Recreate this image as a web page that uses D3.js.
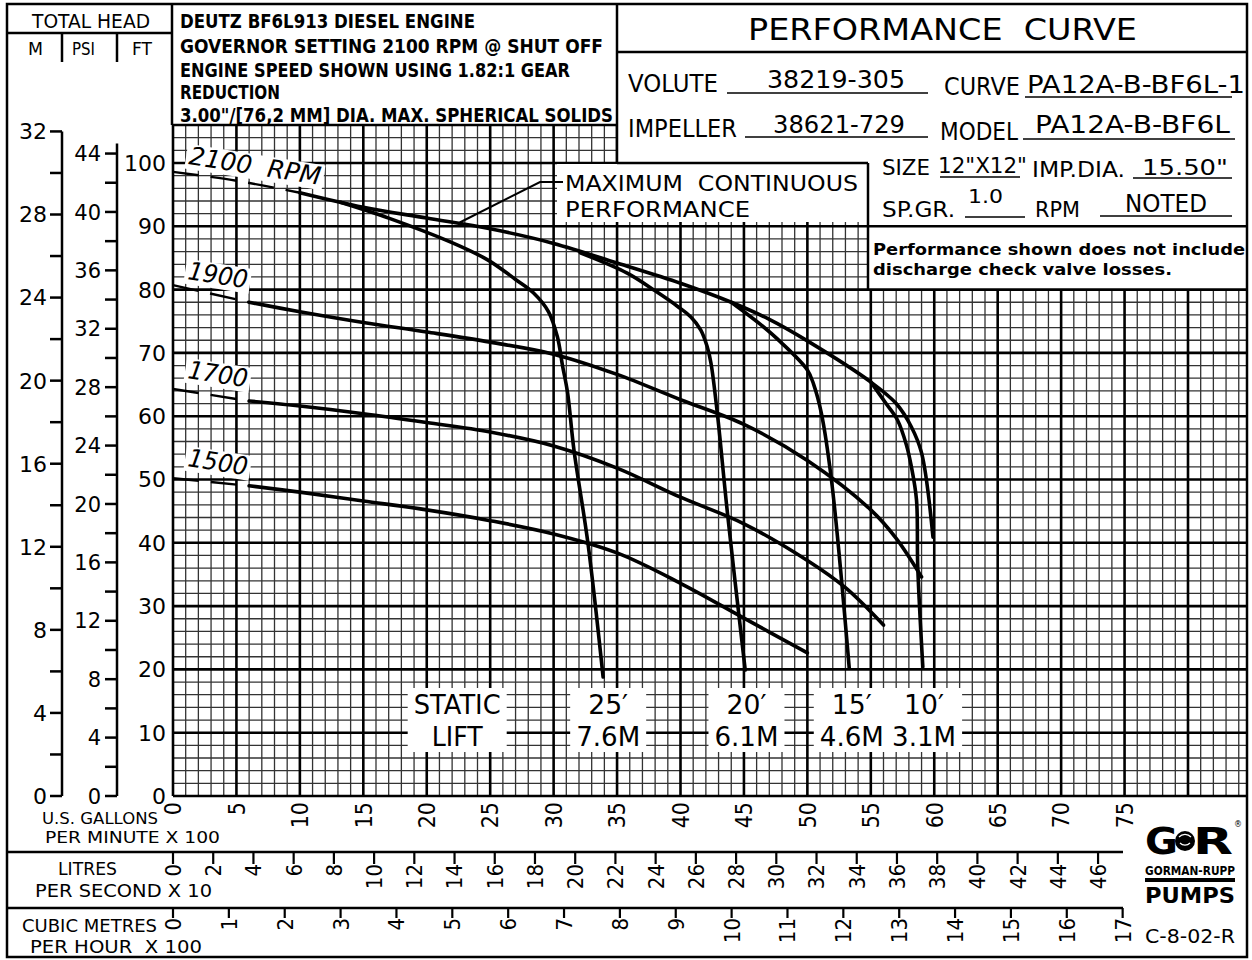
<!DOCTYPE html>
<html><head><meta charset="utf-8">
<script src="https://cdn.jsdelivr.net/npm/d3@7"></script>
<style>body{margin:0;background:#fff}svg{display:block}</style>
</head><body><svg id="c" width="1252" height="960"></svg>
<script>
// ---------------- DATA ----------------
// flow in U.S. GPM x 100, head in feet
const head2100 = [[0,98.6],[5,97.2],[10,95.3],[15,93.0],[20,91.3],[25,89.6],[30,87.3],[35,84.2],[40,81.0],[44,78.0],[47,75.3],[50,71.9],[55,65.4],[57,62.0],[58.2,58.3],[59,54.2],[59.9,40.9]];
const head1900 = [[0,80.7],[6,78.0],[10,76.5],[15,74.8],[20,73.3],[25,71.7],[30,69.8],[35,66.6],[40,62.6],[45,58.7],[50,53.0],[55,45.2],[57,40.7],[59,34.6]];
const head1700 = [[0,64.3],[6,62.4],[10,61.6],[15,60.4],[20,59.0],[25,57.5],[30,55.3],[35,51.8],[40,47.2],[45,43.0],[50,37.2],[53,32.9],[56,27.0]];
const head1500 = [[0,50.2],[6,49.0],[10,48.0],[15,46.6],[20,45.2],[25,43.5],[30,41.4],[35,38.4],[40,33.6],[45,28.1],[50,22.6]];
const rpmLabels = ["2100  RPM","1900","1700","1500"];
const rpmDashEnd = [10,6,6,6];

const lift25 = [[13.2,93.8],[17,91.3],[21.9,87.5],[24.8,84.7],[27,81.6],[28.4,79.5],[29.6,76.5],[30.3,72.5],[30.7,68.0],[31.1,63.7],[31.6,54.7],[32.7,40.0],[33.9,18.8]];
const lift20 = [[32.1,85.8],[35.8,82.6],[38,79.8],[39.8,77.3],[40.8,75.7],[41.6,73.6],[42.1,71.0],[42.4,68.4],[42.9,60.5],[43.7,44.7],[45.1,19.9]];
const lift15 = [[44,78.0],[46.3,74.5],[47.9,71.7],[50,67.3],[50.5,65.0],[51.1,60.5],[51.9,49.9],[53.3,20.2]];
const lift10 = [[55,65.4],[56.2,62.0],[57.1,59.4],[57.8,55.5],[58.2,52.0],[58.6,46.8],[58.7,36.2],[59.1,20.4]];
const liftFt = ["25′","20′","15′","10′"];
const liftM = ["7.6M","6.1M","4.6M","3.1M"];
const liftLabelQ = [34.3,45.2,53.5,59.2];

const ftTicks = [0,10,20,30,40,50,60,70,80,90,100];
const psiTicks = [0,4,8,12,16,20,24,28,32,36,40,44];
const psiMinor = [2,6,10,14,18,22,26,30,34,38,42];
const mTicks = [0,4,8,12,16,20,24,28,32];
const mMinor = [2,6,10,14,18,22,26,30];
const gpmTicks = [0,5,10,15,20,25,30,35,40,45,50,55,60,65,70,75];
const lpsTicks = [0,2,4,6,8,10,12,14,16,18,20,22,24,26,28,30,32,34,36,38,40,42,44,46];
const cmhTicks = [0,1,2,3,4,5,6,7,8,9,10,11,12,13,14,15,16,17];

const noteLines = ["DEUTZ BF6L913 DIESEL ENGINE","GOVERNOR SETTING 2100 RPM @ SHUT OFF","ENGINE SPEED SHOWN USING 1.82:1 GEAR","REDUCTION","3.00\"/[76,2 MM] DIA. MAX. SPHERICAL SOLIDS"];
const mcpPoint = [22.6,90.6];

// ---------------- SETUP ----------------
const FONT = "'DejaVu Sans', sans-serif";
const NARROW = "'Liberation Sans Narrow','DejaVu Sans Condensed',sans-serif";
const svg = d3.select("#c");
const x = d3.scaleLinear().domain([0,80]).range([173,1188]);
const y = d3.scaleLinear().domain([0,100]).range([796,163]);
const FT_PER_M = 3.28084, FT_PER_PSI = 2.30666, GPM100_PER_LPS10 = 1.58503, GPM100_PER_CMH100 = 4.40287;
const RIGHT = 1247;

function T(g, str, px, py, size, o = {}) {
  const t = g.append("text").attr("x", px).attr("y", py).attr("font-size", size)
    .attr("font-family", o.family || FONT).attr("fill", "#000").text(str);
  if (o.anchor) t.attr("text-anchor", o.anchor);
  if (o.w) t.attr("textLength", o.w).attr("lengthAdjust", "spacingAndGlyphs");
  if (o.weight) t.attr("font-weight", o.weight);
  if (o.italic) t.attr("font-style", "italic");
  if (o.dy) t.attr("dy", o.dy);
  if (o.pre) t.style("white-space", "pre");
  return t;
}
function L(g, x1, y1, x2, y2, w = 2.5) {
  return g.append("line").attr("x1", x1).attr("y1", y1).attr("x2", x2).attr("y2", y2)
    .attr("stroke", "#000").attr("stroke-width", w);
}

// ---------------- GRID ----------------
const gGrid = svg.append("g");
const qs = d3.range(0, 85), hs = d3.range(0, 107, 2);
gGrid.selectAll(".vmin").data(qs.filter(q => q % 5)).join("line")
  .attr("x1", d => x(d)).attr("x2", d => x(d)).attr("y1", y(0)).attr("y2", y(106))
  .attr("stroke", "#333").attr("stroke-width", 1.3);
gGrid.selectAll(".hmin").data(hs.filter(h => h % 10)).join("line")
  .attr("x1", x(0)).attr("x2", RIGHT).attr("y1", d => y(d)).attr("y2", d => y(d))
  .attr("stroke", "#333").attr("stroke-width", 1.3);
gGrid.selectAll(".vmaj").data(qs.filter(q => q % 5 === 0)).join("line")
  .attr("x1", d => x(d)).attr("x2", d => x(d)).attr("y1", y(0)).attr("y2", y(106))
  .attr("stroke", "#000").attr("stroke-width", 2.6);
gGrid.selectAll(".hmaj").data(hs.filter(h => h % 10 === 0)).join("line")
  .attr("x1", x(0)).attr("x2", RIGHT).attr("y1", d => y(d)).attr("y2", d => y(d))
  .attr("stroke", "#000").attr("stroke-width", 2.6);

// white covers for boxes
svg.append("rect").attr("x", 617).attr("y", 4).attr("width", RIGHT - 617).attr("height", y(100) - 4).attr("fill", "#fff");
svg.append("rect").attr("x", 868).attr("y", y(100)).attr("width", RIGHT - 868).attr("height", y(80) - y(100)).attr("fill", "#fff");
svg.append("rect").attr("x", 557).attr("y", y(100) + 1).attr("width", 868 - 557).attr("height", 58).attr("fill", "#fff");

// ---------------- CURVES ----------------
const line = d3.line().x(d => x(d[0])).y(d => y(d[1])).curve(d3.curveCatmullRom.alpha(0.5));
const gC = svg.append("g").attr("fill", "none").attr("stroke", "#000").attr("stroke-linecap", "round");
[head2100, head1900, head1700, head1500].forEach((c, i) => {
  const e = rpmDashEnd[i];
  gC.append("path").attr("d", line(c.filter(d => d[0] <= e))).attr("stroke-width", 2.4).attr("stroke-dasharray", "26,12").attr("stroke-linecap", "butt");
  gC.append("path").attr("d", line(c.filter(d => d[0] >= e))).attr("stroke-width", 3.6);
});
[lift25, lift20, lift15, lift10].forEach(c => {
  gC.append("path").attr("d", line(c)).attr("stroke-width", 3.6);
});

// MCP annotation
const gA = svg.append("g");
gA.append("polyline").attr("fill", "none").attr("stroke", "#000").attr("stroke-width", 2)
  .attr("points", `${x(mcpPoint[0])},${y(mcpPoint[1])} 540,182 563,182`);
T(gA, "MAXIMUM  CONTINUOUS", 565, 191, 22, { w: 293, pre: true });
T(gA, "PERFORMANCE", 565, 217, 22, { w: 185 });

// RPM labels
const rpmPos = [[188, 164], [187, 279], [187, 378], [187, 466]];
rpmLabels.forEach((s, i) => {
  const p = rpmPos[i];
  const g = svg.append("g").attr("transform", `translate(${p[0]},${p[1]}) rotate(9)`);
  const r = g.append("rect").attr("fill", "#fff");
  const t = T(g, s, 0, 0, 25, { italic: true, pre: true, w: i === 0 ? 133 : 60 });
  const bb = t.node().getBBox();
  r.attr("x", bb.x - 3).attr("y", bb.y + 3).attr("width", bb.width + 6).attr("height", bb.height - 4);
});

// Static lift labels
function boxLabel(str1, str2, cx, w1, w2) {
  const g = svg.append("g");
  const r = g.append("rect").attr("fill", "#fff");
  const a = T(g, str1, cx, 714, 26, { anchor: "middle", w: w1 });
  const b = T(g, str2, cx, 746, 26, { anchor: "middle", w: w2 });
  const b1 = a.node().getBBox(), b2 = b.node().getBBox();
  const x0 = Math.min(b1.x, b2.x) - 6, x1 = Math.max(b1.x + b1.width, b2.x + b2.width) + 6;
  r.attr("x", x0).attr("y", 688).attr("width", x1 - x0).attr("height", 64);
}
boxLabel("STATIC", "LIFT", x(22.4), 87, 51);
liftFt.forEach((s, i) => boxLabel(s, liftM[i], x(liftLabelQ[i]), 40, 64));

// ---------------- LEFT AXES ----------------
const gL = svg.append("g");
ftTicks.forEach(v => T(gL, String(v), 166, y(v), 22, { anchor: "end", dy: "0.36em" }));
// PSI
L(gL, 117, y(0), 117, y(44 * FT_PER_PSI) - 10, 2.5);
psiTicks.concat(psiMinor).forEach(v => L(gL, 105, y(v * FT_PER_PSI), 117, y(v * FT_PER_PSI), 2.5));
psiTicks.forEach(v => T(gL, String(v), 101, y(v * FT_PER_PSI), 21, { anchor: "end", dy: "0.36em" }));
// M
L(gL, 62, y(0), 62, y(32 * FT_PER_M), 2.5);
mTicks.concat(mMinor).forEach(v => L(gL, 50, y(v * FT_PER_M), 62, y(v * FT_PER_M), 2.5));
mTicks.forEach(v => T(gL, String(v), 47, y(v * FT_PER_M), 22, { anchor: "end", dy: "0.36em" }));

// header
T(gL, "TOTAL HEAD", 32, 28, 19, { w: 118 });
T(gL, "M", 28, 55, 18, { w: 15 });
T(gL, "PSI", 72, 55, 18, { w: 23 });
T(gL, "FT", 132, 55, 18, { w: 20 });
L(gL, 7, 33, 172, 33, 2.5);
L(gL, 62, 33, 62, 62, 2.5);
L(gL, 117, 33, 117, 62, 2.5);

// notes
const noteW = [295, 423, 390, 100, 433];
const noteY = [28, 53, 77, 99, 122];
noteLines.forEach((s, i) => T(svg, s, 180, noteY[i], 20, { w: noteW[i], family: "'DejaVu Sans Condensed','DejaVu Sans',sans-serif", weight: "bold" }));

// ---------------- BOTTOM AXES ----------------
const gB = svg.append("g");
gpmTicks.forEach(v => {
  T(gB, String(v), 0, 0, 23, { anchor: "end", dy: "0.36em", family: NARROW })
    .attr("x", null).attr("y", null).attr("transform", `translate(${x(v)},802) rotate(-90)`);
});
T(gB, "U.S. GALLONS", 42, 824, 16, { w: 116 });
T(gB, "PER MINUTE X 100", 45, 843, 16, { w: 175 });
L(gB, 7, 852, 1123, 852, 2.5);
lpsTicks.forEach(v => {
  const px = x(v * GPM100_PER_LPS10);
  L(gB, px, 852, px, 864, 2.2);
  T(gB, String(v), 0, 0, 22, { anchor: "end", dy: "0.36em", family: NARROW })
    .attr("x", null).attr("y", null).attr("transform", `translate(${px},864) rotate(-90)`);
});
T(gB, "LITRES", 58, 875, 18, { w: 59 });
T(gB, "PER SECOND X 10", 35, 897, 18, { w: 177 });
L(gB, 7, 908, 1123, 908, 2.5);
cmhTicks.forEach(v => {
  const px = x(v * GPM100_PER_CMH100);
  L(gB, px, 908, px, 918, 2.2);
  T(gB, String(v), 0, 0, 22, { anchor: "end", dy: "0.36em", family: NARROW })
    .attr("x", null).attr("y", null).attr("transform", `translate(${px},918) rotate(-90)`);
});
T(gB, "CUBIC METRES", 22, 932, 18, { w: 135 });
T(gB, "PER HOUR  X 100", 30, 953, 18, { w: 172, pre: true });

// ---------------- INFO BOX ----------------
const gI = svg.append("g");
T(gI, "PERFORMANCE  CURVE", 748, 40, 31, { w: 389, pre: true });
T(gI, "VOLUTE", 628, 92, 24, { w: 90 });
T(gI, "38219-305", 767, 88, 24, { w: 138 });
L(gI, 727, 93, 928, 93, 1.3);
T(gI, "CURVE", 944, 95, 24, { w: 76 });
T(gI, "PA12A-B-BF6L-1", 1027, 93, 24, { w: 218 });
L(gI, 1025, 97, 1232, 97, 1.3);
T(gI, "IMPELLER", 628, 137, 24, { w: 109 });
T(gI, "38621-729", 773, 133, 24, { w: 132 });
L(gI, 745, 137, 928, 137, 1.3);
T(gI, "MODEL", 940, 140, 24, { w: 78 });
T(gI, "PA12A-B-BF6L", 1035, 133, 24, { w: 195 });
L(gI, 1023, 139, 1235, 139, 1.3);
T(gI, "SIZE", 882, 175, 22, { w: 48 });
T(gI, "12\"X12\"", 938, 173, 22, { w: 89 });
L(gI, 940, 177, 1020, 177, 1.3);
T(gI, "IMP.DIA.", 1032, 177, 22, { w: 93 });
T(gI, "15.50\"", 1142, 175, 22, { w: 86 });
L(gI, 1133, 178, 1232, 178, 1.3);
T(gI, "SP.GR.", 882, 217, 22, { w: 73 });
T(gI, "1.0", 968, 203, 20, { w: 35 });
L(gI, 965, 217, 1025, 217, 1.3);
T(gI, "RPM", 1035, 217, 22, { w: 45 });
T(gI, "NOTED", 1125, 212, 24, { w: 82 });
L(gI, 1100, 216, 1232, 216, 1.3);
T(gI, "Performance shown does not include", 873, 255, 16, { w: 372, weight: "bold" });
T(gI, "discharge check valve losses.", 873, 275, 16, { w: 299, weight: "bold" });

// box lines
L(svg, 617, 52, RIGHT, 52, 2.5);
L(svg, 617, 4, 617, y(100), 2.5);
L(svg, 617, y(100), 868, y(100), 2.5);
L(svg, 868, y(100), 868, y(80), 2.5);
L(svg, 868, y(90), RIGHT, y(90), 2.5);
L(svg, 868, y(80), RIGHT, y(80), 2.5);
L(svg, 172, 4, 172, y(106), 2.5);
L(svg, 172, y(106), 617, y(106), 2.5);

// ---------------- LOGO ----------------
const gG = svg.append("g");
T(gG, "G", 1145, 854, 38, { w: 33, weight: "900", family: "'DejaVu Sans',sans-serif" });
gG.append("circle").attr("cx", 1185).attr("cy", 841).attr("r", 10).attr("fill", "#000");
gG.append("path").attr("d", "M1179,837 A8,8 0 0,1 1191,837 M1180,843 A7,7 0 0,0 1190,843").attr("fill", "none").attr("stroke", "#fff").attr("stroke-width", 1.2);
T(gG, "R", 1193, 854, 38, { w: 40, weight: "900", family: "'DejaVu Sans',sans-serif" });
T(gG, "®", 1234, 827, 8);
T(gG, "GORMAN-RUPP", 1145, 875, 12, { w: 90, weight: "bold", family: NARROW });
gG.append("rect").attr("x", 1145).attr("y", 878).attr("width", 90).attr("height", 4).attr("fill", "#000");
T(gG, "PUMPS", 1145, 903, 21, { w: 90, weight: "900", family: "'DejaVu Sans',sans-serif" });
T(gG, "C-8-02-R", 1145, 943, 20, { w: 90 });

// outer border
svg.append("rect").attr("x", 7).attr("y", 4).attr("width", RIGHT - 7).attr("height", 953)
  .attr("fill", "none").attr("stroke", "#000").attr("stroke-width", 2.5);
</script></body></html>
